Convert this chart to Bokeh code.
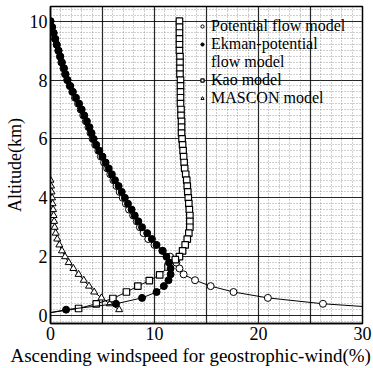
from bokeh.plotting import figure
from bokeh.models import Range1d, FixedTicker, Grid, Legend, LegendItem, Title
from bokeh.embed import file_html
from bokeh.resources import INLINE

# ---------------- data ----------------
# Potential flow model (open circles)
pot_alt = [10.0, 9.8, 9.6, 9.4, 9.2, 9.0, 8.8, 8.6, 8.4, 8.2, 8.0, 7.8, 7.6, 7.4, 7.2, 7.0,
           6.8, 6.6, 6.4, 6.2, 6.0, 5.8, 5.6, 5.4, 5.2, 5.0, 4.8, 4.6, 4.4, 4.2, 4.0, 3.8,
           3.6, 3.4, 3.2, 3.0, 2.8, 2.6, 2.4, 2.2, 2.0, 1.8, 1.6, 1.4, 1.2, 1.0, 0.8, 0.6,
           0.4, 0.2]
pot_w = [0.0, 0.15, 0.3, 0.45, 0.6, 0.75, 0.9, 1.05, 1.25, 1.4, 1.6, 1.85, 2.1, 2.35, 2.65, 2.9,
         3.15, 3.4, 3.65, 3.85, 4.05, 4.3, 4.6, 4.85, 5.15, 5.45, 5.75, 6.05, 6.35, 6.65, 6.95, 7.25,
         7.55, 7.95, 8.3, 8.6, 8.95, 9.4, 10.0, 10.8, 11.5, 12.1, 12.4, 12.8, 13.9, 15.4, 17.6, 20.9,
         26.2, 34.5]

# Ekman-potential flow model (filled circles); last point = surface (line only)
ek_alt = [10.0, 9.8, 9.6, 9.4, 9.2, 9.0, 8.8, 8.6, 8.4, 8.2, 8.0, 7.8, 7.6, 7.4, 7.2, 7.0,
          6.8, 6.6, 6.4, 6.2, 6.0, 5.8, 5.6, 5.4, 5.2, 5.0, 4.8, 4.6, 4.4, 4.2, 4.0, 3.8,
          3.6, 3.4, 3.2, 3.0, 2.8, 2.6, 2.4, 2.2, 2.0, 1.8, 1.6, 1.4, 1.2, 1.0, 0.8, 0.6,
          0.4, 0.2, 0.1]
ek_w = [0.0, 0.15, 0.3, 0.45, 0.6, 0.78, 0.95, 1.1, 1.3, 1.45, 1.65, 1.9, 2.15, 2.45, 2.75, 3.0,
        3.25, 3.5, 3.75, 3.95, 4.15, 4.4, 4.7, 5.0, 5.3, 5.6, 5.9, 6.2, 6.55, 6.85, 7.15, 7.45,
        7.8, 8.1, 8.45, 8.8, 9.3, 9.75, 10.2, 10.75, 11.15, 11.4, 11.55, 11.55, 11.35, 10.9, 10.2, 8.8,
        6.3, 1.5, 0.0]

# Kao model (open squares); last point = surface (line only)
kao_alt = [10.0, 9.8, 9.6, 9.4, 9.2, 9.0, 8.8, 8.6, 8.4, 8.2, 8.0, 7.8, 7.6, 7.4, 7.2, 7.0,
           6.8, 6.6, 6.4, 6.2, 6.0, 5.8, 5.6, 5.4, 5.2, 5.0, 4.8, 4.6, 4.4, 4.2, 4.0, 3.8,
           3.6, 3.4, 3.2, 3.0, 2.8, 2.6, 2.4, 2.2, 2.0, 1.9, 1.65, 1.38, 1.19, 1.0, 0.8, 0.58,
           0.4, 0.24, 0.1]
kao_w = [12.4, 12.4, 12.4, 12.4, 12.4, 12.4, 12.45, 12.45, 12.45, 12.45, 12.5, 12.5, 12.5, 12.5, 12.5, 12.55,
         12.55, 12.6, 12.6, 12.6, 12.65, 12.7, 12.75, 12.8, 12.85, 12.9, 13.0, 13.1, 13.15, 13.2, 13.25, 13.3,
         13.35, 13.4, 13.4, 13.4, 13.3, 13.15, 12.95, 12.7, 12.4, 12.0, 11.3, 10.5, 9.5, 8.4, 7.3, 6.0,
         4.4, 2.7, 0.0]

# MASCON model (open triangles)
mas_alt = [4.6, 4.4, 4.2, 4.0, 3.8, 3.6, 3.4, 3.2, 3.0, 2.8, 2.6, 2.4, 2.2, 2.0, 1.8, 1.6,
           1.4, 1.2, 1.0, 0.8, 0.6, 0.4, 0.2]
mas_w = [0.0, 0.05, 0.1, 0.15, 0.2, 0.25, 0.3, 0.35, 0.4, 0.5, 0.65, 0.85, 1.1, 1.4, 1.75, 2.2,
         2.7, 3.2, 3.7, 4.2, 4.9, 5.7, 6.6]

x_ticks = [0, 10, 20, 30]
y_ticks = [0, 2, 4, 6, 8, 10]

SERIF = "Liberation Serif"

p = figure(width=373, height=368, output_backend="svg", toolbar_location=None,
           x_range=Range1d(0, 30), y_range=Range1d(-0.27, 10.5),
           min_border_left=50, min_border_right=11, min_border_top=6, min_border_bottom=45,
           background_fill_color="white", border_fill_color="white")

p.outline_line_color = "black"
p.outline_line_width = 1.5

for ax in (p.xaxis[0], p.yaxis[0]):
    ax.axis_line_color = "black"
    ax.axis_line_width = 1.5
    ax.major_tick_line_color = None
    ax.minor_tick_line_color = None
    ax.major_tick_out = 0
    ax.major_tick_in = 0
    ax.minor_tick_out = 0
    ax.minor_tick_in = 0
    ax.major_label_text_font = SERIF
    ax.major_label_text_font_size = "18px"
    ax.major_label_text_color = "black"
    ax.axis_label_text_font = SERIF
    ax.axis_label_text_font_size = "18px"
    ax.axis_label_text_font_style = "normal"
    ax.axis_label_text_color = "black"
    ax.major_label_standoff = 3
    ax.axis_label_standoff = 2

p.xaxis.ticker = FixedTicker(ticks=x_ticks)
p.yaxis.ticker = FixedTicker(ticks=y_ticks)
p.yaxis.axis_label = "Altitude(km)"

# x-axis caption (shifted left like the original)
p.add_layout(Title(text="Ascending windspeed for geostrophic-wind(%)", align="left",
                   offset=-40, standoff=0, text_font=SERIF, text_font_size="19px",
                   text_font_style="normal", text_color="black"), "below")

# major grid
p.xgrid.ticker = FixedTicker(ticks=[5, 10, 15, 20, 25])
p.ygrid.ticker = FixedTicker(ticks=y_ticks)
for g in (p.xgrid[0], p.ygrid[0]):
    g.grid_line_color = "black"
    g.grid_line_width = 1.2
    g.grid_line_alpha = 0.85

# minor dotted grid
p.add_layout(Grid(dimension=0, ticker=FixedTicker(ticks=[i for i in range(1, 30) if i % 5]),
                  grid_line_color="#555555", grid_line_dash="1 2", grid_line_width=0.8,
                  grid_line_alpha=0.7))
p.add_layout(Grid(dimension=1, ticker=FixedTicker(ticks=[round(-0.2 + 0.2 * i, 1) for i in range(55) if (i - 1) % 10]),
                  grid_line_color="#555555", grid_line_dash="1 2", grid_line_width=0.8,
                  grid_line_alpha=0.7))

# series
p.line(pot_w, pot_alt, line_color="black", line_width=1)
r_pot = p.scatter(pot_w, pot_alt, marker="circle", size=7, fill_color="white",
                  line_color="black", line_width=1)

p.line(mas_w, mas_alt, line_color="black", line_width=1)
r_mas = p.scatter(mas_w, mas_alt, marker="triangle", size=7, fill_color="white",
                  line_color="black", line_width=1)

p.line(kao_w, kao_alt, line_color="black", line_width=1)
r_kao = p.scatter(kao_w[:-1], kao_alt[:-1], marker="square", size=6.5, fill_color="white",
                  line_color="black", line_width=1.2)

p.line(ek_w, ek_alt, line_color="black", line_width=1)
r_ek = p.scatter(ek_w[:-1], ek_alt[:-1], marker="circle", size=7, fill_color="black",
                 line_color="black", line_width=1)

r_dummy = p.scatter([], [], marker="circle", size=1, fill_alpha=0, line_alpha=0)

legend = Legend(items=[
    LegendItem(label="Potential flow model", renderers=[r_pot]),
    LegendItem(label="Ekman-potential", renderers=[r_ek]),
    LegendItem(label="flow model", renderers=[r_dummy]),
    LegendItem(label="Kao model", renderers=[r_kao]),
    LegendItem(label="MASCON model", renderers=[r_mas]),
], location=(148, 216), margin=0, padding=0, spacing=0,
    background_fill_alpha=0, border_line_alpha=0,
    label_text_font=SERIF, label_text_font_size="16px", label_text_color="black",
    glyph_width=8, glyph_height=8, label_height=17, label_standoff=5)
p.add_layout(legend)

open("out.html", "w").write(file_html(p, INLINE))
